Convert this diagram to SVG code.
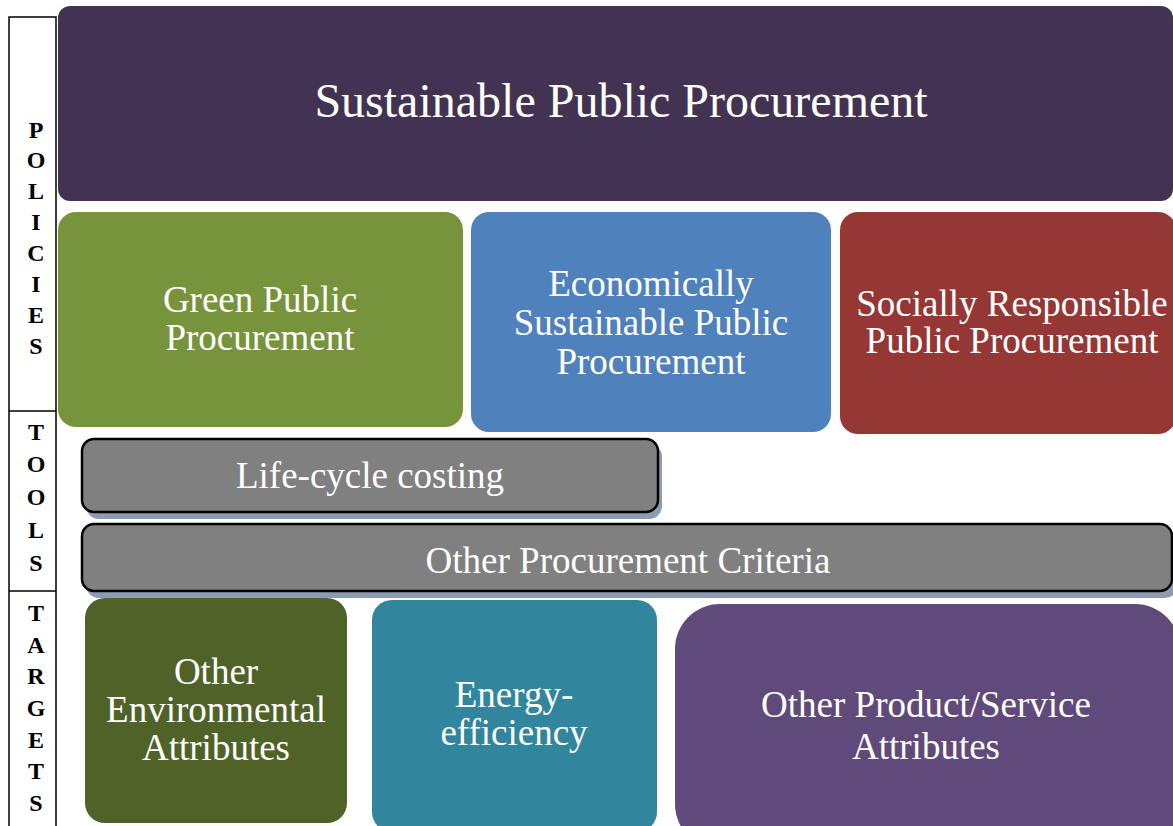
<svg xmlns="http://www.w3.org/2000/svg" width="1173" height="826" viewBox="0 0 1173 826">
<style>
.lbl{font-family:'Liberation Serif','Tinos','DejaVu Serif',serif;fill:#ffffff;text-anchor:middle;font-size:37px;}
.side{font-family:'Liberation Serif','Tinos','DejaVu Serif',serif;font-weight:bold;font-size:24px;fill:#000;text-anchor:middle;}
.tool{fill:#808080;stroke:#000;stroke-width:2.5;}
.shadow{fill:#8c9cb3;}
</style>
<rect width="1173" height="826" fill="#ffffff"/>
<g id="side-column">
<rect x="9" y="17" width="47" height="830" fill="#fff" stroke="#000" stroke-width="1.5"/>
<line x1="9" y1="411" x2="56" y2="411" stroke="#000" stroke-width="1.5"/>
<line x1="9" y1="591" x2="56" y2="591" stroke="#000" stroke-width="1.5"/>
<text class="side"><tspan x="36" y="138">P</tspan><tspan x="36" y="168">O</tspan><tspan x="36" y="199">L</tspan><tspan x="36" y="230">I</tspan><tspan x="36" y="261">C</tspan><tspan x="36" y="292">I</tspan><tspan x="36" y="323">E</tspan><tspan x="36" y="354">S</tspan></text>
<text class="side"><tspan x="36" y="440">T</tspan><tspan x="36" y="472">O</tspan><tspan x="36" y="505">O</tspan><tspan x="36" y="538">L</tspan><tspan x="36" y="571">S</tspan></text>
<text class="side"><tspan x="36" y="621">T</tspan><tspan x="36" y="653">A</tspan><tspan x="36" y="684">R</tspan><tspan x="36" y="716">G</tspan><tspan x="36" y="748">E</tspan><tspan x="36" y="779">T</tspan><tspan x="36" y="811">S</tspan></text>
</g>
<g id="spp">
<rect x="58" y="6" width="1115" height="195" rx="12" fill="#433352"/>
<text class="lbl" x="621" y="117" style="font-size:48px">Sustainable Public Procurement</text>
</g>
<g id="gpp">
<rect x="58" y="212" width="405" height="215" rx="18" fill="#77933c"/>
<text class="lbl"><tspan x="260" y="312">Green Public</tspan><tspan x="260" y="350">Procurement</tspan></text>
</g>
<g id="espp">
<rect x="471" y="212" width="360" height="220" rx="18" fill="#4f81bd"/>
<text class="lbl"><tspan x="651" y="296">Economically</tspan><tspan x="651" y="335">Sustainable Public</tspan><tspan x="651" y="374">Procurement</tspan></text>
</g>
<g id="srpp">
<rect x="840" y="212" width="336" height="222" rx="18" fill="#953735"/>
<text class="lbl"><tspan x="1012" y="316">Socially Responsible</tspan><tspan x="1012" y="353">Public Procurement</tspan></text>
</g>
<g id="lcc">
<rect class="shadow" x="86" y="444" width="576" height="75" rx="13"/>
<rect class="tool" x="82" y="439" width="576" height="73" rx="12"/>
<text class="lbl" x="370" y="488">Life-cycle costing</text>
</g>
<g id="opc">
<rect class="shadow" x="86" y="529" width="1092" height="69" rx="13"/>
<rect class="tool" x="82" y="524" width="1090" height="67" rx="12"/>
<text class="lbl" x="628" y="573">Other Procurement Criteria</text>
</g>
<g id="oea">
<rect x="85" y="598" width="262" height="225" rx="20" fill="#4f6228"/>
<text class="lbl"><tspan x="216" y="684">Other</tspan><tspan x="216" y="722">Environmental</tspan><tspan x="216" y="760">Attributes</tspan></text>
</g>
<g id="ee">
<rect x="372" y="600" width="285" height="232" rx="20" fill="#31859c"/>
<text class="lbl"><tspan x="514" y="707">Energy-</tspan><tspan x="514" y="745">efficiency</tspan></text>
</g>
<g id="opsa">
<rect x="677" y="607" width="505" height="245" rx="45" fill="#a7aeb8"/>
<rect x="675" y="604" width="505" height="245" rx="45" fill="#604a7b"/>
<text class="lbl"><tspan x="926" y="717">Other Product/Service</tspan><tspan x="926" y="759">Attributes</tspan></text>
</g>
<g id="connectors"></g>
</svg>
